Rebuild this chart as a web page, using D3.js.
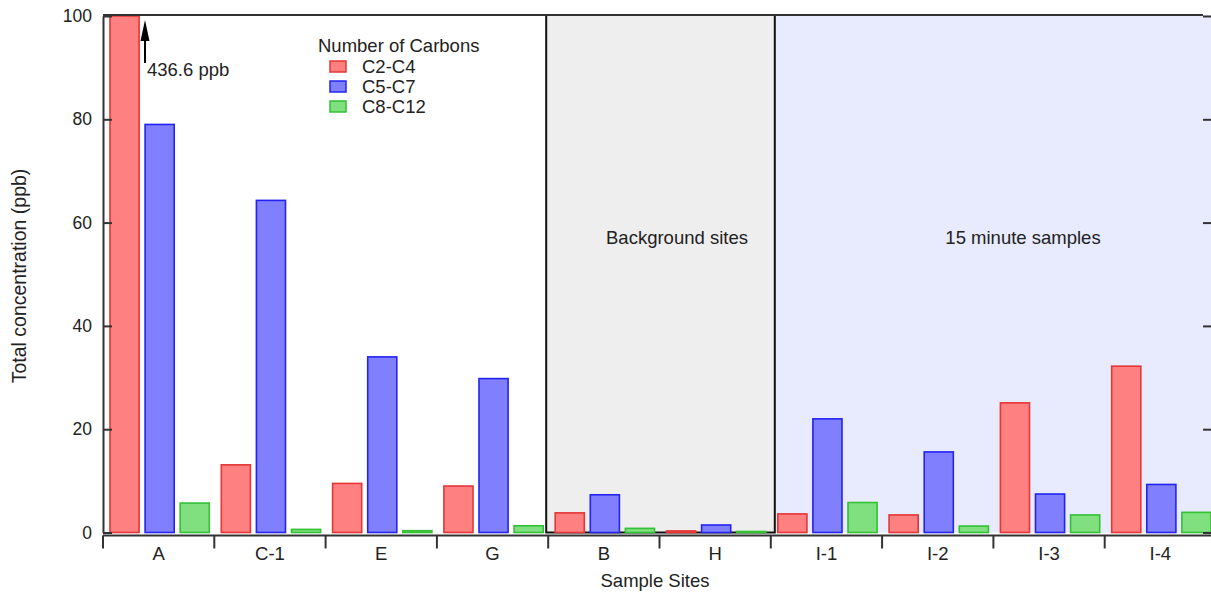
<!DOCTYPE html>
<html>
<head>
<meta charset="utf-8">
<script src="https://cdn.jsdelivr.net/npm/d3@7"></script>
<style>
  body { margin: 0; background: #fff; }
  text { font-family: "Liberation Sans", Arial, sans-serif; fill: #222; }
</style>
</head>
<body>
<script>
// data
var sites = ["A", "C-1", "E", "G", "B", "H", "I-1", "I-2", "I-3", "I-4"];
var series = ["C2-C4", "C5-C7", "C8-C12"];
var c2c4 = [436.6, 13.1, 9.5, 9.0, 3.8, 0.3, 3.6, 3.4, 25.1, 32.2];
var c5c7 = [79.0, 64.3, 34.0, 29.8, 7.3, 1.45, 22.0, 15.6, 7.45, 9.3];
var c8c12 = [5.7, 0.6, 0.35, 1.3, 0.8, 0.2, 5.8, 1.25, 3.4, 3.9];
var yTicks = [0, 20, 40, 60, 80, 100];

var fills = ["#ff8080", "#8080ff", "#80e080"];
var strokes = ["#e53535", "#2323f0", "#33c033"];

const w = 1211;
const h = 593;
const padL = 103, padR = 1216, padT = 16, padB = 532.5;

const svg = d3.select("body").append("svg")
    .attr("width", w)
    .attr("height", h);

const x = d3.scaleBand().domain(sites).range([padL, padR]);
const x1 = d3.scaleBand().domain(series).range([7, x.bandwidth() - 5]).paddingInner(0.171);
const y = d3.scaleLinear().domain([0, 100]).range([padB, padT]);

// shaded regions
svg.append("rect")
    .attr("x", x("I-1"))
    .attr("y", y(100) - 1)
    .attr("width", padR - x("I-1"))
    .attr("height", y(0) - y(100) + 1)
    .attr("fill", "#e8ebfd");

svg.append("rect")
    .attr("x", x("B") - 2)
    .attr("y", y(100) - 1)
    .attr("width", x("I-1") - x("B") + 6)
    .attr("height", y(0) - y(100) + 1)
    .attr("fill", "#eeeeee")
    .attr("stroke", "#111")
    .attr("stroke-width", 2);

// bars
var rows = sites.map((s, i) => ({ site: s, vals: [c2c4[i], c5c7[i], c8c12[i]] }));

svg.append("g").selectAll("g")
    .data(rows)
    .enter()
    .append("g")
    .attr("transform", d => "translate(" + x(d.site) + ",0)")
    .selectAll("rect")
    .data(d => d.vals.map((v, j) => ({ key: series[j], v: v, j: j })))
    .enter()
    .append("rect")
    .attr("x", d => x1(d.key))
    .attr("y", d => y(Math.min(d.v, 100)))
    .attr("width", x1.bandwidth())
    .attr("height", d => Math.max(y(0) - y(Math.min(d.v, 100)), 1))
    .attr("fill", d => fills[d.j])
    .attr("stroke", d => strokes[d.j])
    .attr("stroke-width", 1.6);

// axes
const yAxis = d3.axisLeft(y).tickValues(yTicks).tickSizeInner(-9).tickSizeOuter(0).tickPadding(11);
const gy = svg.append("g").attr("transform", "translate(" + padL + ",0)").call(yAxis);
gy.select(".domain").attr("stroke", "#333").attr("stroke-width", 2);
gy.selectAll(".tick line").attr("stroke", "#333").attr("stroke-width", 2);
gy.selectAll("text").style("font-size", "17.5px").attr("fill", "#222");

const yAxisR = d3.axisRight(y).tickValues(yTicks).tickSizeInner(-11).tickSizeOuter(0).tickFormat("");
const gr = svg.append("g").attr("transform", "translate(" + (padR - 2) + ",0)").call(yAxisR);
gr.select(".domain").remove();
gr.selectAll(".tick line").attr("stroke", "#333").attr("stroke-width", 2);

// top frame line
svg.append("line")
    .attr("x1", padL).attr("x2", padR - 13)
    .attr("y1", y(100) - 1).attr("y2", y(100) - 1)
    .attr("stroke", "#333").attr("stroke-width", 2);

// x axis with ticks at category boundaries
const gx = svg.append("g").attr("transform", "translate(0," + (padB + 3) + ")");
gx.append("line")
    .attr("x1", padL).attr("x2", padR)
    .attr("stroke", "#333").attr("stroke-width", 2);
gx.selectAll(".bt")
    .data(sites)
    .enter()
    .append("line")
    .attr("x1", d => x(d)).attr("x2", d => x(d))
    .attr("y1", 0).attr("y2", 13)
    .attr("stroke", "#333").attr("stroke-width", 2);
gx.selectAll(".lab")
    .data(sites)
    .enter()
    .append("text")
    .attr("x", d => x(d) + x.bandwidth() / 2)
    .attr("y", 24)
    .style("text-anchor", "middle")
    .style("font-size", "18.5px")
    .text(d => d);

// axis titles
svg.append("text")
    .attr("x", 655).attr("y", 587)
    .style("text-anchor", "middle")
    .style("font-size", "18.5px")
    .text("Sample Sites");

svg.append("text")
    .attr("transform", "translate(26," + 276 + ") rotate(-90)")
    .style("text-anchor", "middle")
    .style("font-size", "19.5px")
    .text("Total concentration (ppb)");

// region labels
svg.append("text")
    .attr("x", 677).attr("y", 244)
    .style("text-anchor", "middle").style("font-size", "18.5px")
    .text("Background sites");
svg.append("text")
    .attr("x", 1023).attr("y", 244)
    .style("text-anchor", "middle").style("font-size", "18.5px")
    .text("15 minute samples");

// arrow for the off-scale bar
svg.append("line")
    .attr("x1", 145).attr("x2", 145)
    .attr("y1", 63).attr("y2", 36)
    .attr("stroke", "#000").attr("stroke-width", 2);
svg.append("path")
    .attr("d", "M145,20 L149.5,41 L140.5,41 Z")
    .attr("fill", "#000");

svg.append("text")
    .attr("x", 147).attr("y", 76)
    .style("font-size", "18.5px")
    .text(c2c4[0] + " ppb");

// legend
const lg = svg.append("g").attr("transform", "translate(318,0)");
lg.append("text").attr("x", 0).attr("y", 52).style("font-size", "18.5px").text("Number of Carbons");
series.forEach((s, i) => {
    lg.append("rect")
        .attr("x", 12).attr("y", 61 + i * 20)
        .attr("width", 16).attr("height", 11)
        .attr("fill", fills[i]).attr("stroke", strokes[i]).attr("stroke-width", 1.5);
    lg.append("text")
        .attr("x", 44).attr("y", 73 + i * 20)
        .style("font-size", "18.5px")
        .text(s);
});
</script>
</body>
</html>
